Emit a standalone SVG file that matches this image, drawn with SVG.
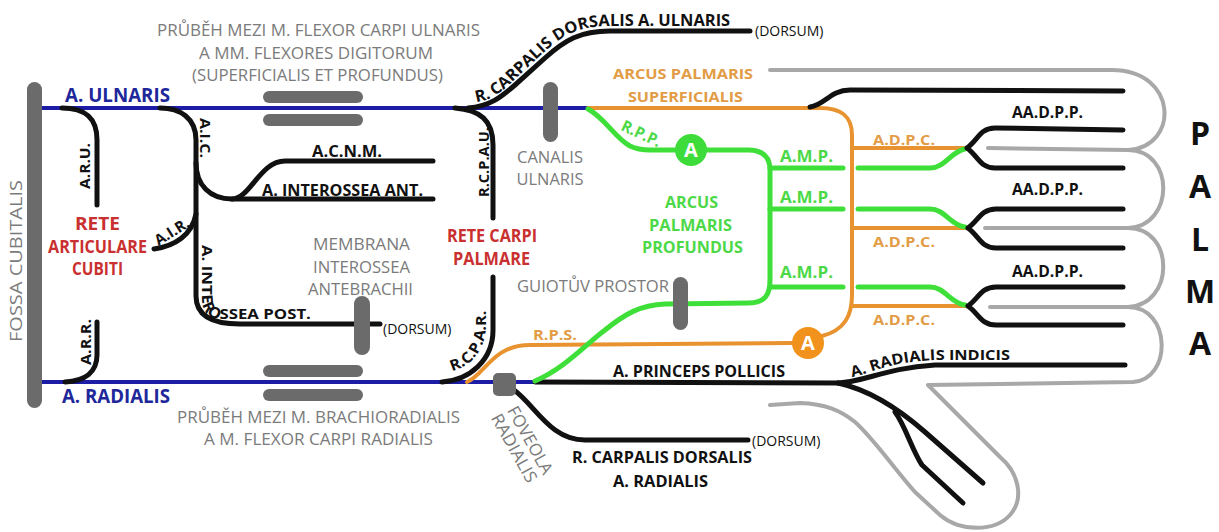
<svg xmlns="http://www.w3.org/2000/svg" width="1219" height="532" viewBox="0 0 1219 532">
<style>
text{font-family:"Open Sans","Liberation Sans",sans-serif}
.g{fill:#7b7b7b;font-size:17px}
.b{fill:#111;font-size:16px;font-weight:bold}
.s{fill:#111;font-size:15px;font-weight:bold}
.bl{fill:#20279a;font-size:19px;font-weight:bold}
.r{fill:#c9302f;font-size:18px;font-weight:bold}
.o{fill:#e29c45;font-size:15px;font-weight:bold}
.gr{fill:#4dd947;font-size:16px;font-weight:bold}
.d{fill:#111;font-size:14px}
.pa{fill:#111;font-size:32px;font-weight:bold}
.ci{fill:#fff;font-size:20px;font-weight:bold}
.art{fill:none;stroke:#111;stroke-width:5;stroke-linecap:round;stroke-linejoin:round}
.blue{fill:none;stroke:#1c1ca6;stroke-width:4}
.or{fill:none;stroke:#e8932f;stroke-width:4;stroke-linecap:round;stroke-linejoin:round}
.grn{fill:none;stroke:#3fdf3a;stroke-width:5;stroke-linecap:round;stroke-linejoin:round}
.out{fill:none;stroke:#a8a8a8;stroke-width:4;stroke-linecap:round;stroke-linejoin:round}
.bar{fill:#6b6b6b}
</style>
<defs>
<path id="tp-rcdu" d="M 476 102 C 492 100 500 93 512 82 L 541 55 C 561 36 578 26 608 26 L 740 26"/>
<path id="tp-aip" d="M 202 245 L 202 296 C 202 312 208 319 222 319 L 340 319"/>
<path id="tp-rcpar" d="M 452 371 C 472 366 485 350 486 325 L 486 280"/>
<path id="tp-ari" d="M 852 377 C 872 373 888 362 935 360 L 1040 360"/>
</defs>

<!-- hand outline -->
<g id="palma-outline">
<path class="out" d="M 770 405 L 800 403 C 825 404 840 410 855 422 C 875 440 895 470 915 492 L 940 515 C 960 532 995 532 1010 515 C 1025 498 1018 472 1000 457 L 928 385 L 1133 382 C 1172 380 1172 307 1128 307 C 1175 305 1175 228 1128 228 C 1175 226 1175 150 1128 150 C 1180 147 1178 70 1112 70 L 770 70"/>
<path class="out" d="M 988 148 L 1128 150 M 985 228 L 1128 228 M 990 307 L 1128 307"/>
</g>

<g id="connectors">
<!-- main trunks -->
<path class="blue" d="M 40 108 L 588 108"/>
<path class="blue" d="M 40 382 L 535 382"/>
<!-- forearm branches -->
<path class="art" d="M 62 108 C 85 108 97 118 97 140 L 97 205"/>
<path class="art" d="M 97 322 L 97 355 C 97 372 85 381 65 382"/>
<path class="art" d="M 160 108 C 180 108 196 118 196 140 L 196 296 C 196 316 212 324 240 324 L 380 324"/>
<path class="art" d="M 196 163 C 196 185 210 199 232 199 L 433 199"/>
<path class="art" d="M 232 199 C 250 199 260 161 285 161 L 433 161"/>
<path class="art" d="M 196 214 C 192 235 175 246 154 249"/>
<path class="art" d="M 455 108 C 480 110 493 120 493 145 L 493 218"/>
<path class="art" d="M 493 277 L 493 330 C 493 360 470 380 442 382"/>
<path class="art" d="M 468 108 C 490 106 500 98 515 85 L 545 58 C 565 40 580 31 610 31 L 750 31"/>
<path class="art" d="M 514 390 C 535 405 550 440 585 440 L 748 440"/>
<!-- hand: princeps pollicis & radialis indicis -->
<path class="art" d="M 535 382 L 838 383"/>
<path class="art" d="M 838 383 C 865 382 885 368 935 365 L 1125 365"/>
<path class="art" d="M 838 383 C 870 390 900 410 925 432 L 983 483"/>
<path class="art" d="M 895 412 C 905 425 912 450 922 465 L 963 503"/>
<!-- superficial arch -->
<path class="or" d="M 588 108 L 820 108 C 840 108 852 115 852 135 L 852 295 C 852 315 845 330 822 336"/>
<path class="or" d="M 467 382 C 485 375 492 345 530 345 L 792 343"/>
<path class="or" d="M 852 148 L 967 148 M 852 228 L 968 228 M 852 306 L 968 306"/>
<!-- deep arch -->
<path class="grn" d="M 588 109 C 605 118 615 138 630 146 C 636 149 642 150 650 150 L 676 150"/>
<path class="grn" d="M 535 381 C 565 368 585 345 605 330 C 625 314 640 305 665 304 L 748 303 C 765 303 770 295 770 280 L 770 170 C 770 156 762 150 748 150 L 706 150"/>
<path class="grn" d="M 770 168 L 843 168 M 858 168 L 930 168 C 945 168 950 152 965 149"/>
<path class="grn" d="M 770 209 L 843 209 M 858 209 L 930 209 C 945 209 950 225 965 227"/>
<path class="grn" d="M 770 287 L 843 287 M 858 287 L 930 287 C 945 287 950 303 965 305"/>
<!-- digital arteries -->
<path class="art" d="M 810 107 C 825 105 830 90 850 90 L 1123 91"/>
<path class="art" d="M 967 148 C 978 140 980 128 995 128 L 1123 130 M 967 148 C 978 156 980 168 995 168 L 1123 168"/>
<path class="art" d="M 968 228 C 979 220 981 209 996 209 L 1123 209 M 968 228 C 979 236 981 248 996 248 L 1123 248"/>
<path class="art" d="M 968 306 C 979 298 981 287 996 287 L 1123 287 M 968 306 C 979 314 981 325 996 325 L 1123 325"/>
</g>

<!-- landmarks -->
<g id="fossa-cubitalis">
<rect class="bar" x="27" y="82" width="15" height="326" rx="7.5"/>
<text class="g" transform="translate(22,261) rotate(-90)" text-anchor="middle" textLength="162" lengthAdjust="spacingAndGlyphs">FOSSA CUBITALIS</text>
</g>
<g id="flexor-carpi-ulnaris">
<rect class="bar" x="263" y="91" width="100" height="12" rx="6"/>
<rect class="bar" x="263" y="114" width="100" height="12" rx="6"/>
<text class="g" x="318.5" y="36" text-anchor="middle" textLength="323" lengthAdjust="spacingAndGlyphs">PRŮBĚH MEZI M. FLEXOR CARPI ULNARIS</text>
<text class="g" x="316" y="59" text-anchor="middle" textLength="234" lengthAdjust="spacingAndGlyphs">A MM. FLEXORES DIGITORUM</text>
<text class="g" x="317.5" y="81" text-anchor="middle" textLength="251" lengthAdjust="spacingAndGlyphs">(SUPERFICIALIS ET PROFUNDUS)</text>
</g>
<g id="brachioradialis">
<rect class="bar" x="263" y="365" width="100" height="12" rx="6"/>
<rect class="bar" x="263" y="389" width="100" height="12" rx="6"/>
<text class="g" x="318.5" y="423" text-anchor="middle" textLength="283" lengthAdjust="spacingAndGlyphs">PRŮBĚH MEZI M. BRACHIORADIALIS</text>
<text class="g" x="318.5" y="445" text-anchor="middle" textLength="229" lengthAdjust="spacingAndGlyphs">A M. FLEXOR CARPI RADIALIS</text>
</g>
<g id="canalis-ulnaris">
<rect class="bar" x="543" y="82" width="15" height="60" rx="7.5"/>
<text class="g" x="550" y="163" text-anchor="middle" textLength="66" lengthAdjust="spacingAndGlyphs">CANALIS</text>
<text class="g" x="550" y="185" text-anchor="middle" textLength="67" lengthAdjust="spacingAndGlyphs">ULNARIS</text>
</g>
<g id="membrana-interossea">
<rect class="bar" x="354" y="296" width="16" height="59" rx="8"/>
<text class="g" x="361.5" y="250" text-anchor="middle" textLength="97" lengthAdjust="spacingAndGlyphs">MEMBRANA</text>
<text class="g" x="361.5" y="273" text-anchor="middle" textLength="97" lengthAdjust="spacingAndGlyphs">INTEROSSEA</text>
<text class="g" x="360.5" y="295" text-anchor="middle" textLength="105" lengthAdjust="spacingAndGlyphs">ANTEBRACHII</text>
</g>
<g id="guiotuv-prostor">
<rect class="bar" x="673" y="277" width="15" height="53" rx="7.5"/>
<text class="g" x="517" y="292" textLength="152" lengthAdjust="spacingAndGlyphs">GUIOTŮV PROSTOR</text>
</g>
<g id="foveola-radialis">
<rect class="bar" x="493" y="373" width="23" height="23" rx="5"/>
<text class="g" transform="translate(525,443) rotate(61)" text-anchor="middle" textLength="75" lengthAdjust="spacingAndGlyphs">FOVEOLA</text>
<text class="g" transform="translate(509,451) rotate(61)" text-anchor="middle" textLength="76" lengthAdjust="spacingAndGlyphs">RADIALIS</text>
</g>

<!-- anastomotic networks -->
<g id="rete-articulare-cubiti">
<text class="r" x="97.5" y="230" text-anchor="middle" textLength="45" lengthAdjust="spacingAndGlyphs">RETE</text>
<text class="r" x="97.5" y="253" text-anchor="middle" textLength="99" lengthAdjust="spacingAndGlyphs">ARTICULARE</text>
<text class="r" x="97.5" y="275" text-anchor="middle" textLength="51" lengthAdjust="spacingAndGlyphs">CUBITI</text>
</g>
<g id="rete-carpi-palmare">
<text class="r" x="492" y="242" text-anchor="middle" textLength="90" lengthAdjust="spacingAndGlyphs">RETE CARPI</text>
<text class="r" x="491.5" y="265" text-anchor="middle" textLength="77" lengthAdjust="spacingAndGlyphs">PALMARE</text>
</g>

<!-- arches -->
<g id="arcus-superficialis">
<text class="o" x="683" y="79" text-anchor="middle" textLength="140" lengthAdjust="spacingAndGlyphs">ARCUS PALMARIS</text>
<text class="o" x="685.5" y="102" text-anchor="middle" textLength="115" lengthAdjust="spacingAndGlyphs">SUPERFICIALIS</text>
<circle cx="808" cy="343" r="16" fill="#f0921c"/>
<text class="ci" x="808" y="350" text-anchor="middle">A</text>
</g>
<g id="arcus-profundus">
<text class="gr" x="691.5" y="208" text-anchor="middle" textLength="53" lengthAdjust="spacingAndGlyphs">ARCUS</text>
<text class="gr" x="690.5" y="231" text-anchor="middle" textLength="83" lengthAdjust="spacingAndGlyphs">PALMARIS</text>
<text class="gr" x="692.5" y="253" text-anchor="middle" textLength="101" lengthAdjust="spacingAndGlyphs">PROFUNDUS</text>
<circle cx="691" cy="150" r="16" fill="#3ddc3a"/>
<text class="ci" x="691" y="157" text-anchor="middle">A</text>
</g>

<!-- vessel labels -->
<g id="vessel-labels">
<text class="bl" x="117.5" y="102" text-anchor="middle" textLength="105" lengthAdjust="spacingAndGlyphs">A. ULNARIS</text>
<text class="bl" x="116" y="403" text-anchor="middle" textLength="108" lengthAdjust="spacingAndGlyphs">A. RADIALIS</text>
<text class="s" transform="translate(90,166) rotate(-90)" text-anchor="middle" textLength="46" lengthAdjust="spacingAndGlyphs">A.R.U.</text>
<text class="s" transform="translate(91,342) rotate(-90)" text-anchor="middle" textLength="46" lengthAdjust="spacingAndGlyphs">A.R.R.</text>
<text class="s" transform="translate(200,138) rotate(90)" text-anchor="middle" textLength="40" lengthAdjust="spacingAndGlyphs">A.I.C.</text>
<text class="s" transform="translate(174.6,236) rotate(-32)" text-anchor="middle" textLength="38" lengthAdjust="spacingAndGlyphs">A.I.R.</text>
<text class="s" transform="translate(489,162) rotate(-90)" text-anchor="middle" textLength="70" lengthAdjust="spacingAndGlyphs">R.C.P.A.U.</text>
<text class="s"><textPath href="#tp-rcpar" textLength="76" lengthAdjust="spacingAndGlyphs">R.C.P.A.R.</textPath></text>
<text class="s"><textPath href="#tp-aip" textLength="175" lengthAdjust="spacingAndGlyphs">A. INTEROSSEA POST.</textPath></text>
<text class="b"><textPath href="#tp-rcdu" textLength="279" lengthAdjust="spacingAndGlyphs">R. CARPALIS DORSALIS A. ULNARIS</textPath></text>
<text class="s"><textPath href="#tp-ari" textLength="160" lengthAdjust="spacingAndGlyphs">A. RADIALIS INDICIS</textPath></text>
<text class="b" x="347" y="157" text-anchor="middle" textLength="70" lengthAdjust="spacingAndGlyphs">A.C.N.M.</text>
<text class="b" x="342.5" y="196" text-anchor="middle" textLength="161" lengthAdjust="spacingAndGlyphs">A. INTEROSSEA ANT.</text>
<text class="b" x="699" y="377" text-anchor="middle" textLength="172" lengthAdjust="spacingAndGlyphs">A. PRINCEPS POLLICIS</text>
<text class="b" x="662" y="463" text-anchor="middle" textLength="180" lengthAdjust="spacingAndGlyphs">R. CARPALIS DORSALIS</text>
<text class="b" x="660.5" y="487" text-anchor="middle" textLength="95" lengthAdjust="spacingAndGlyphs">A. RADIALIS</text>
<text class="b" x="1047.5" y="118" text-anchor="middle" textLength="71" lengthAdjust="spacingAndGlyphs">AA.D.P.P.</text>
<text class="b" x="1047.5" y="195" text-anchor="middle" textLength="71" lengthAdjust="spacingAndGlyphs">AA.D.P.P.</text>
<text class="b" x="1047.5" y="277" text-anchor="middle" textLength="71" lengthAdjust="spacingAndGlyphs">AA.D.P.P.</text>
<text class="o" x="904" y="145" text-anchor="middle" textLength="62" lengthAdjust="spacingAndGlyphs">A.D.P.C.</text>
<text class="o" x="904" y="247" text-anchor="middle" textLength="62" lengthAdjust="spacingAndGlyphs">A.D.P.C.</text>
<text class="o" x="904" y="325" text-anchor="middle" textLength="62" lengthAdjust="spacingAndGlyphs">A.D.P.C.</text>
<text class="o" x="555" y="340" text-anchor="middle" textLength="44" lengthAdjust="spacingAndGlyphs">R.P.S.</text>
<text class="gr" transform="translate(639,138.5) rotate(25)" text-anchor="middle" textLength="42" lengthAdjust="spacingAndGlyphs">R.P.P.</text>
<text class="gr" x="806.5" y="162" text-anchor="middle" textLength="53" lengthAdjust="spacingAndGlyphs">A.M.P.</text>
<text class="gr" x="806.5" y="203" text-anchor="middle" textLength="53" lengthAdjust="spacingAndGlyphs">A.M.P.</text>
<text class="gr" x="806.5" y="278" text-anchor="middle" textLength="53" lengthAdjust="spacingAndGlyphs">A.M.P.</text>
<text class="d" x="755" y="36">(DORSUM)</text>
<text class="d" x="383" y="334">(DORSUM)</text>
<text class="d" x="752" y="446">(DORSUM)</text>
</g>

<g id="palma-title">
<text class="pa" x="1200" y="145" text-anchor="middle">P</text>
<text class="pa" x="1200" y="198" text-anchor="middle">A</text>
<text class="pa" x="1200" y="251" text-anchor="middle">L</text>
<text class="pa" x="1200" y="303" text-anchor="middle">M</text>
<text class="pa" x="1200" y="355" text-anchor="middle">A</text>
</g>
</svg>
